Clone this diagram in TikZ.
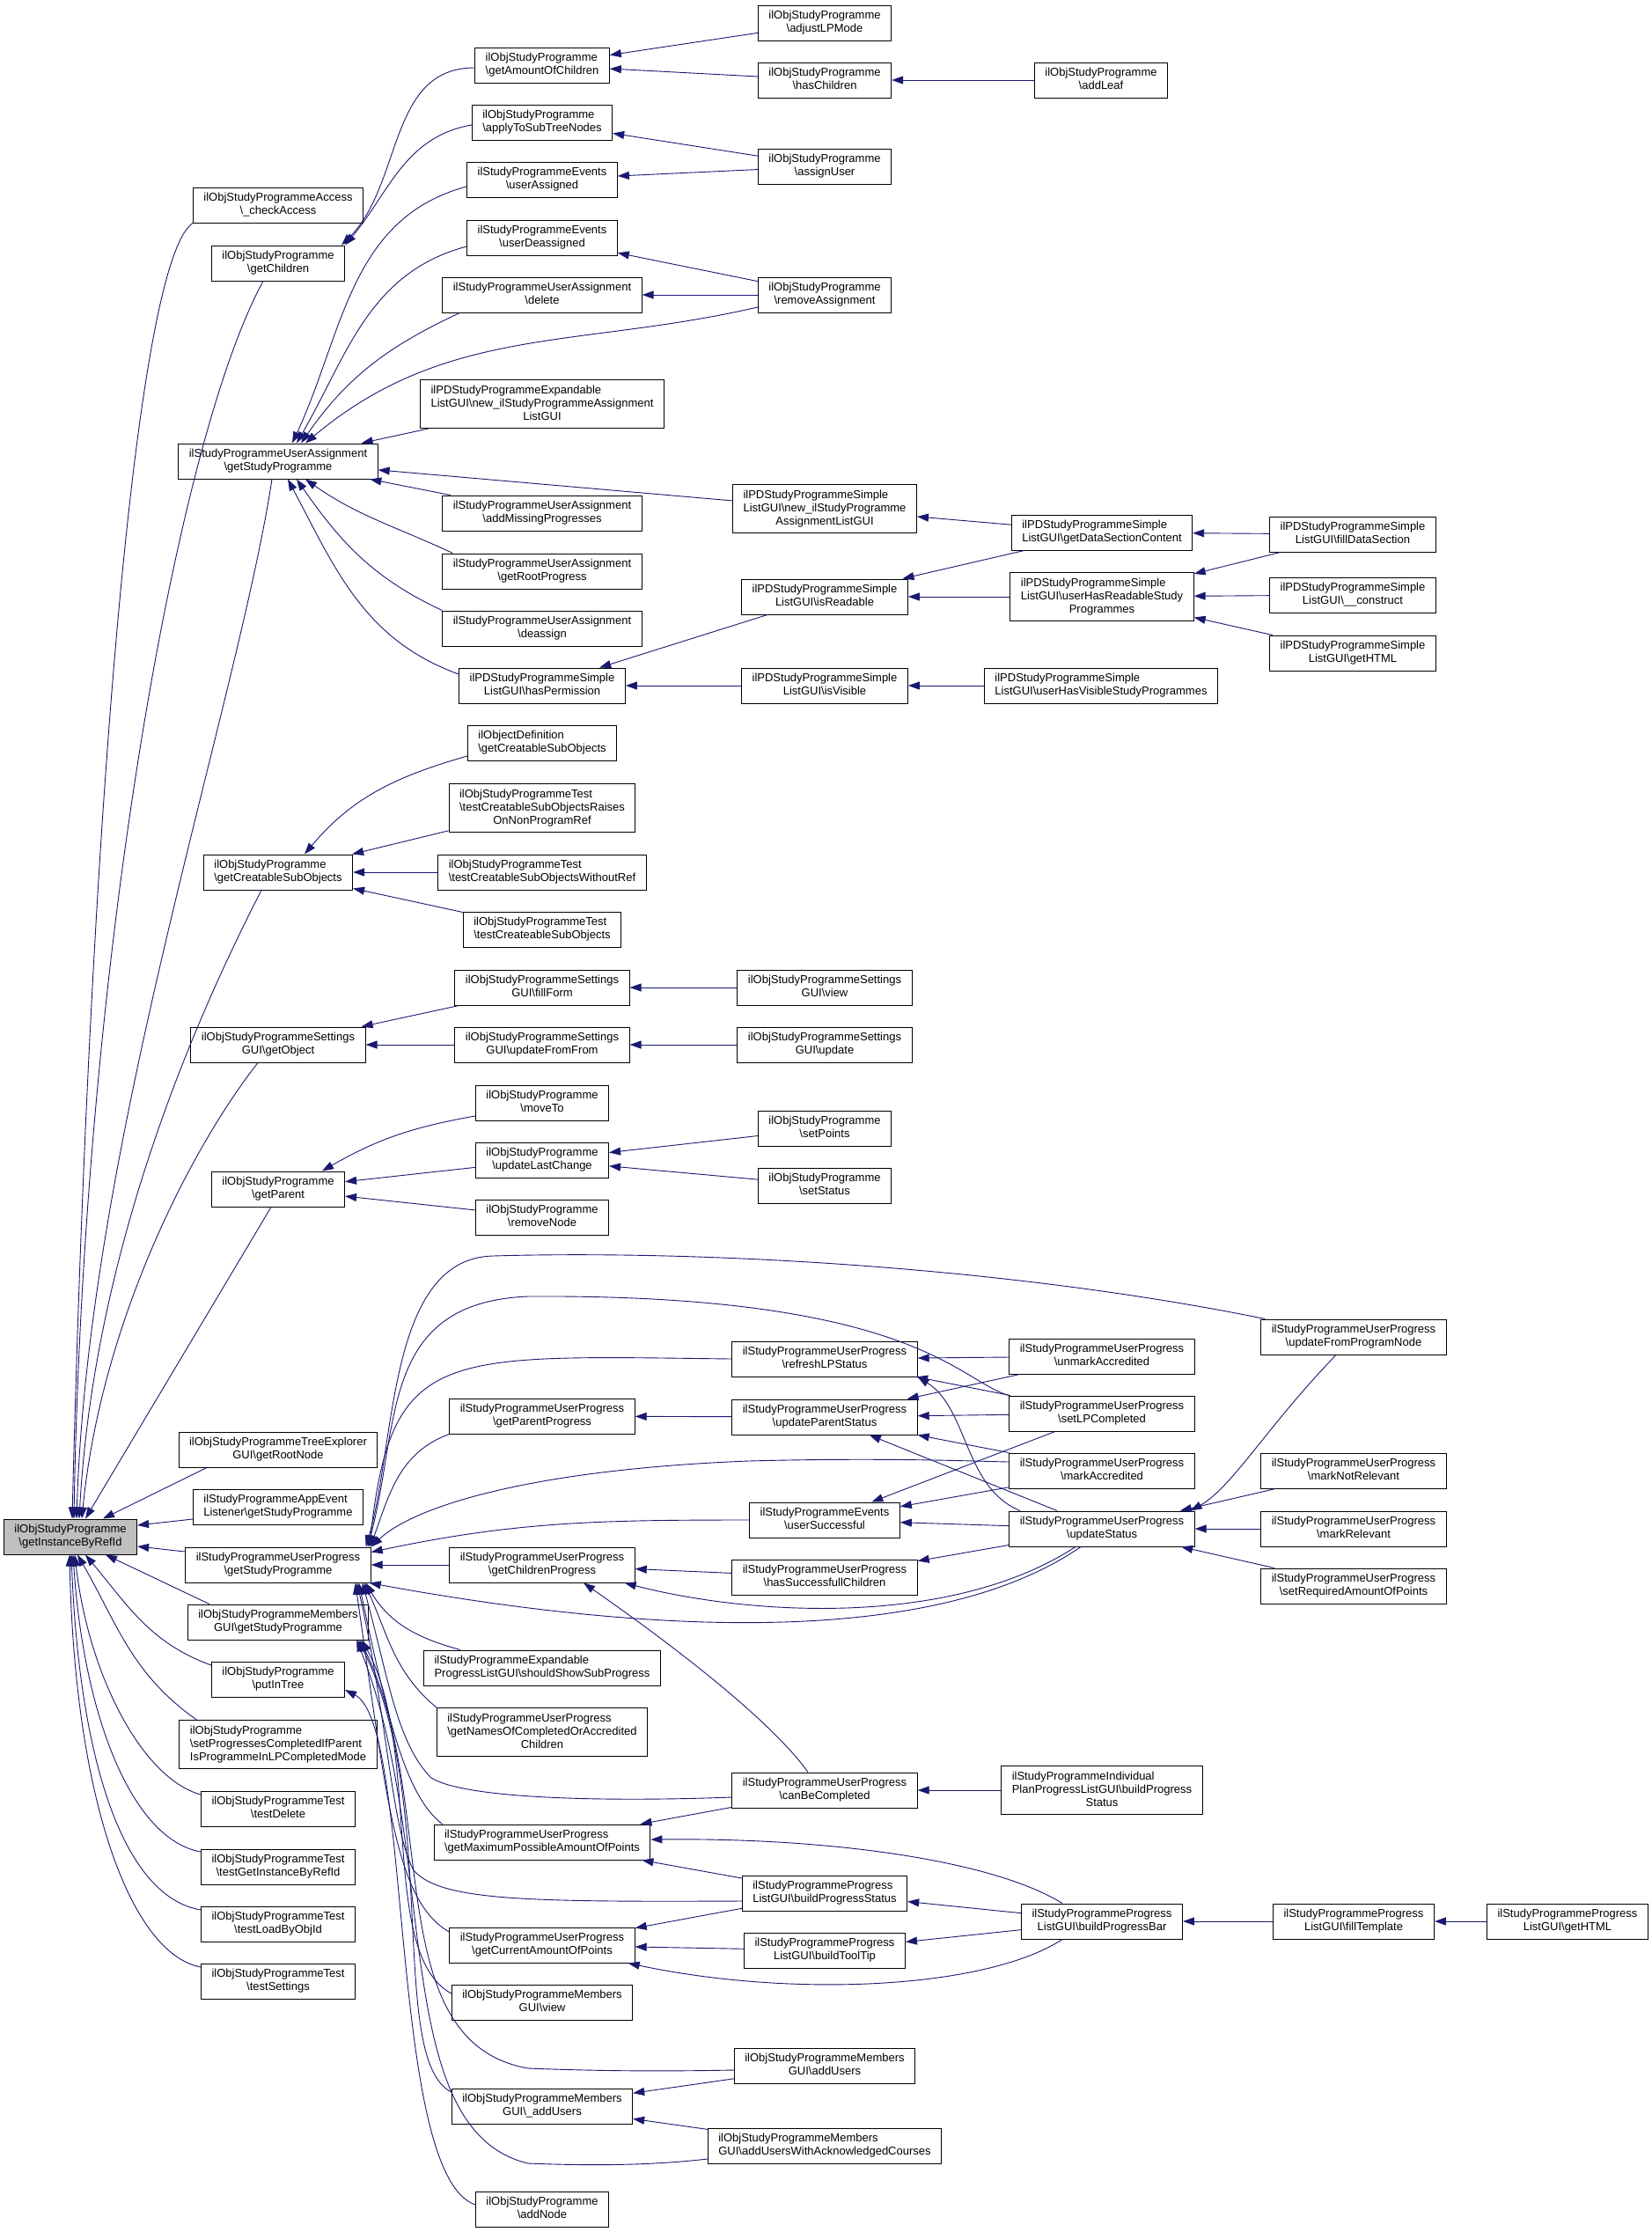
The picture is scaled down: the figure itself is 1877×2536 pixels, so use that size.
\documentclass[tikz,border=0pt]{standalone}
\usepackage{fontspec}
\setmainfont{Liberation Sans}
\usepackage{tikz}
\usetikzlibrary{arrows.meta}
\definecolor{edgeblue}{RGB}{25,25,112}
\newcommand{\bksl}{\textbackslash}
\newcommand{\twol}[2]{\begin{tabular}{@{}l@{}}#1\\\multicolumn{1}{@{}c@{}}{#2}\end{tabular}}
\newcommand{\threel}[3]{\begin{tabular}{@{}l@{}}#1\\#2\\\multicolumn{1}{@{}c@{}}{#3}\end{tabular}}

\begin{document}
\begin{tikzpicture}[x=1pt, y=1pt,
		fn/.style={draw=black, line width=1pt, fill=white, inner xsep=12pt, inner ysep=5pt, font=\fontsize{13}{15}\selectfont},
		call/.style={draw=edgeblue, line width=0.9pt, {Triangle[length=13pt,width=9pt]}-}]
			\path[use as bounding box, fill=white] (0,0) rectangle (1877,-2536);
			
			% Root
			\node[fn, fill=black!25] (root) at (80,-1746) {\twol{ilObjStudyProgramme}{\bksl getInstanceByRefId}};
			
			% Column 1
			\node[fn] (ca) at (316,-233) {\twol{ilObjStudyProgrammeAccess}{\bksl\_checkAccess}};
			\node[fn] (gch) at (316,-299) {\twol{ilObjStudyProgramme}{\bksl getChildren}};
			\node[fn] (uagsp) at (316,-524) {\twol{ilStudyProgrammeUserAssignment}{\bksl getStudyProgramme}};
			\node[fn] (gcso) at (316,-991) {\twol{ilObjStudyProgramme}{\bksl getCreatableSubObjects}};
			\node[fn] (gob) at (316,-1187) {\twol{ilObjStudyProgrammeSettings}{GUI\bksl getObject}};
			\node[fn] (gpar) at (316,-1351) {\twol{ilObjStudyProgramme}{\bksl getParent}};
			\node[fn] (te) at (316,-1647) {\twol{ilObjStudyProgrammeTreeExplorer}{GUI\bksl getRootNode}};
			\node[fn] (ae) at (316,-1712) {\twol{ilStudyProgrammeAppEvent}{Listener\bksl getStudyProgramme}};
			\node[fn] (upgsp) at (316,-1778) {\twol{ilStudyProgrammeUserProgress}{\bksl getStudyProgramme}};
			\node[fn] (mgsp) at (316,-1843) {\twol{ilObjStudyProgrammeMembers}{GUI\bksl getStudyProgramme}};
			\node[fn] (pit) at (316,-1908) {\twol{ilObjStudyProgramme}{\bksl putInTree}};
			\node[fn] (spc) at (316,-1982) {\threel{ilObjStudyProgramme}{\bksl setProgressesCompletedIfParent}{IsProgrammeInLPCompletedMode}};
			\node[fn] (tdel) at (316,-2055) {\twol{ilObjStudyProgrammeTest}{\bksl testDelete}};
			\node[fn] (tgi) at (316,-2121) {\twol{ilObjStudyProgrammeTest}{\bksl testGetInstanceByRefId}};
			\node[fn] (tlo) at (316,-2186) {\twol{ilObjStudyProgrammeTest}{\bksl testLoadByObjId}};
			\node[fn] (tset) at (316,-2251) {\twol{ilObjStudyProgrammeTest}{\bksl testSettings}};
			
			% Column 2
			\node[fn] (gaoc) at (616,-74) {\twol{ilObjStudyProgramme}{\bksl getAmountOfChildren}};
			\node[fn] (atst) at (616,-139) {\twol{ilObjStudyProgramme}{\bksl applyToSubTreeNodes}};
			\node[fn] (uas) at (616,-204) {\twol{ilStudyProgrammeEvents}{\bksl userAssigned}};
			\node[fn] (uds) at (616,-270) {\twol{ilStudyProgrammeEvents}{\bksl userDeassigned}};
			\node[fn] (uadel) at (616,-335) {\twol{ilStudyProgrammeUserAssignment}{\bksl delete}};
			\node[fn] (exnew) at (616,-459) {\threel{ilPDStudyProgrammeExpandable}{ListGUI\bksl new\_ilStudyProgrammeAssignment}{ListGUI}};
			\node[fn] (amp) at (616,-583) {\twol{ilStudyProgrammeUserAssignment}{\bksl addMissingProgresses}};
			\node[fn] (grp) at (616,-649) {\twol{ilStudyProgrammeUserAssignment}{\bksl getRootProgress}};
			\node[fn] (dea) at (616,-714) {\twol{ilStudyProgrammeUserAssignment}{\bksl deassign}};
			\node[fn] (hpe) at (616,-779) {\twol{ilPDStudyProgrammeSimple}{ListGUI\bksl hasPermission}};
			\node[fn] (odef) at (616,-844) {\twol{ilObjectDefinition}{\bksl getCreatableSubObjects}};
			\node[fn] (cwr) at (616,-918) {\threel{ilObjStudyProgrammeTest}{\bksl testCreatableSubObjectsRaises}{OnNonProgramRef}};
			\node[fn] (cwo) at (616,-991) {\twol{ilObjStudyProgrammeTest}{\bksl testCreatableSubObjectsWithoutRef}};
			\node[fn] (cts) at (616,-1056) {\twol{ilObjStudyProgrammeTest}{\bksl testCreateableSubObjects}};
			\node[fn] (ffo) at (616,-1122) {\twol{ilObjStudyProgrammeSettings}{GUI\bksl fillForm}};
			\node[fn] (uff) at (616,-1187) {\twol{ilObjStudyProgrammeSettings}{GUI\bksl updateFromFrom}};
			\node[fn] (mto) at (616,-1253) {\twol{ilObjStudyProgramme}{\bksl moveTo}};
			\node[fn] (ulc) at (616,-1318) {\twol{ilObjStudyProgramme}{\bksl updateLastChange}};
			\node[fn] (rno) at (616,-1383) {\twol{ilObjStudyProgramme}{\bksl removeNode}};
			\node[fn] (gpp) at (616,-1609) {\twol{ilStudyProgrammeUserProgress}{\bksl getParentProgress}};
			\node[fn] (gcp) at (616,-1778) {\twol{ilStudyProgrammeUserProgress}{\bksl getChildrenProgress}};
			\node[fn] (sss) at (616,-1895) {\twol{ilStudyProgrammeExpandable}{ProgressListGUI\bksl shouldShowSubProgress}};
			\node[fn] (gnc) at (616,-1968) {\threel{ilStudyProgrammeUserProgress}{\bksl getNamesOfCompletedOrAccredited}{Children}};
			\node[fn] (gmp) at (616,-2093) {\twol{ilStudyProgrammeUserProgress}{\bksl getMaximumPossibleAmountOfPoints}};
			\node[fn] (gcap) at (616,-2210) {\twol{ilStudyProgrammeUserProgress}{\bksl getCurrentAmountOfPoints}};
			\node[fn] (mview) at (616,-2275) {\twol{ilObjStudyProgrammeMembers}{GUI\bksl view}};
			\node[fn] (maddu) at (616,-2393) {\twol{ilObjStudyProgrammeMembers}{GUI\bksl\_addUsers}};
			\node[fn] (addn) at (616,-2510) {\twol{ilObjStudyProgramme}{\bksl addNode}};
			
			% Column 3
			\node[fn] (alp) at (937,-26) {\twol{ilObjStudyProgramme}{\bksl adjustLPMode}};
			\node[fn] (hch) at (937,-91) {\twol{ilObjStudyProgramme}{\bksl hasChildren}};
			\node[fn] (asu) at (937,-189) {\twol{ilObjStudyProgramme}{\bksl assignUser}};
			\node[fn] (ras) at (937,-335) {\twol{ilObjStudyProgramme}{\bksl removeAssignment}};
			\node[fn] (snew) at (937,-578) {\threel{ilPDStudyProgrammeSimple}{ListGUI\bksl new\_ilStudyProgramme}{AssignmentListGUI}};
			\node[fn] (ird) at (937,-678) {\twol{ilPDStudyProgrammeSimple}{ListGUI\bksl isReadable}};
			\node[fn] (ivi) at (937,-779) {\twol{ilPDStudyProgrammeSimple}{ListGUI\bksl isVisible}};
			\node[fn] (sview) at (937,-1122) {\twol{ilObjStudyProgrammeSettings}{GUI\bksl view}};
			\node[fn] (supd) at (937,-1187) {\twol{ilObjStudyProgrammeSettings}{GUI\bksl update}};
			\node[fn] (spt) at (937,-1282) {\twol{ilObjStudyProgramme}{\bksl setPoints}};
			\node[fn] (sst) at (937,-1347) {\twol{ilObjStudyProgramme}{\bksl setStatus}};
			\node[fn] (rlp) at (937,-1544) {\twol{ilStudyProgrammeUserProgress}{\bksl refreshLPStatus}};
			\node[fn] (ups) at (937,-1610) {\twol{ilStudyProgrammeUserProgress}{\bksl updateParentStatus}};
			\node[fn] (usu) at (937,-1727) {\twol{ilStudyProgrammeEvents}{\bksl userSuccessful}};
			\node[fn] (hsc) at (937,-1792) {\twol{ilStudyProgrammeUserProgress}{\bksl hasSuccessfullChildren}};
			\node[fn] (cbc) at (937,-2034) {\twol{ilStudyProgrammeUserProgress}{\bksl canBeCompleted}};
			\node[fn] (bps) at (937,-2151) {\twol{ilStudyProgrammeProgress}{ListGUI\bksl buildProgressStatus}};
			\node[fn] (btt) at (937,-2216) {\twol{ilStudyProgrammeProgress}{ListGUI\bksl buildToolTip}};
			\node[fn] (madd) at (937,-2347) {\twol{ilObjStudyProgrammeMembers}{GUI\bksl addUsers}};
			\node[fn] (mawa) at (937,-2438) {\twol{ilObjStudyProgrammeMembers}{GUI\bksl addUsersWithAcknowledgedCourses}};
			
			% Column 4
			\node[fn] (alf) at (1251,-91) {\twol{ilObjStudyProgramme}{\bksl addLeaf}};
			\node[fn] (gdsc) at (1252,-605) {\twol{ilPDStudyProgrammeSimple}{ListGUI\bksl getDataSectionContent}};
			\node[fn] (uhr) at (1252,-678) {\threel{ilPDStudyProgrammeSimple}{ListGUI\bksl userHasReadableStudy}{Programmes}};
			\node[fn] (uhv) at (1251,-779) {\twol{ilPDStudyProgrammeSimple}{ListGUI\bksl userHasVisibleStudyProgrammes}};
			\node[fn] (uma) at (1252,-1541) {\twol{ilStudyProgrammeUserProgress}{\bksl unmarkAccredited}};
			\node[fn] (slc) at (1252,-1606) {\twol{ilStudyProgrammeUserProgress}{\bksl setLPCompleted}};
			\node[fn] (mac) at (1252,-1671) {\twol{ilStudyProgrammeUserProgress}{\bksl markAccredited}};
			\node[fn] (ust) at (1252,-1737) {\twol{ilStudyProgrammeUserProgress}{\bksl updateStatus}};
			\node[fn] (ibps) at (1252,-2034) {\threel{ilStudyProgrammeIndividual}{PlanProgressListGUI\bksl buildProgress}{Status}};
			\node[fn] (bpb) at (1252,-2183) {\twol{ilStudyProgrammeProgress}{ListGUI\bksl buildProgressBar}};
			
			% Column 5 and 6
			\node[fn] (fds) at (1537,-607) {\twol{ilPDStudyProgrammeSimple}{ListGUI\bksl fillDataSection}};
			\node[fn] (cons) at (1537,-676) {\twol{ilPDStudyProgrammeSimple}{ListGUI\bksl\_\_construct}};
			\node[fn] (shtml) at (1537,-742) {\twol{ilPDStudyProgrammeSimple}{ListGUI\bksl getHTML}};
			\node[fn] (ufpn) at (1538,-1519) {\twol{ilStudyProgrammeUserProgress}{\bksl updateFromProgramNode}};
			\node[fn] (mnr) at (1538,-1671) {\twol{ilStudyProgrammeUserProgress}{\bksl markNotRelevant}};
			\node[fn] (mre) at (1538,-1737) {\twol{ilStudyProgrammeUserProgress}{\bksl markRelevant}};
			\node[fn] (sra) at (1538,-1802) {\twol{ilStudyProgrammeUserProgress}{\bksl setRequiredAmountOfPoints}};
			\node[fn] (fte) at (1538,-2183) {\twol{ilStudyProgrammeProgress}{ListGUI\bksl fillTemplate}};
			\node[fn] (phtml) at (1781,-2183) {\twol{ilStudyProgrammeProgress}{ListGUI\bksl getHTML}};
			
			% Into the root
			\draw[call] ([xshift=2]root.north) .. controls (100,-1000) and (150,-300) .. (ca.south west);
			\draw[call] ([xshift=4]root.north) .. controls (95,-1100) and (200,-500) .. ([xshift=-17]gch.south);
			\draw[call] ([xshift=7]root.north) .. controls (100,-1300) and (270,-800) .. ([xshift=-7]uagsp.south);
			\draw[call] ([xshift=10]root.north) .. controls (105,-1450) and (200,-1200) .. ([xshift=-19]gcso.south);
			\draw[call] ([xshift=13]root.north) .. controls (115,-1500) and (220,-1300) .. ([xshift=-23]gob.south);
			\draw[call] ([xshift=17]root.north) -- ([xshift=-8]gpar.south);
			\draw[call] ([xshift=37]root.north) -- ([xshift=-81]te.south);
			\draw[call] ([yshift=13]root.east) -- ([yshift=-14]ae.west);
			\draw[call] ([yshift=-11]root.east) -- ([yshift=15]upgsp.west);
			\draw[call] ([xshift=40]root.south) -- ([xshift=25]mgsp.north west);
			\draw[call] ([xshift=17]root.south) to[out=-50, in=160] ([yshift=16]pit.west);
			\draw[call] ([xshift=8]root.south) to[out=-60, in=145] ([xshift=20]spc.north west);
			\draw[call] ([xshift=5]root.south) .. controls (100,-1900) and (160,-2020) .. ([yshift=16]tdel.west);
			\draw[call] ([xshift=3]root.south) .. controls (95,-1950) and (150,-2090) .. ([yshift=17]tgi.west);
			\draw[call] ([xshift=1]root.south) .. controls (90,-2000) and (140,-2155) .. ([yshift=16]tlo.west);
			\draw[call] ([xshift=-1]root.south) .. controls (85,-2050) and (150,-2220) .. ([yshift=16]tset.west);
			
			% Children and assignment
			\draw[call] ([xshift=-4]gch.north east) to[out=45, in=180] ([yshift=-3]gaoc.west);
			\draw[call] (gch.north east) to[out=50, in=190] ([yshift=-3]atst.west);
			\draw[call] (gaoc) -- (alp);
			\draw[call] (gaoc) -- (hch);
			\draw[call] (hch) -- (alf);
			\draw[call] (atst) -- (asu);
			\draw[call] (uas) -- (asu);
			\draw[call] (uds) -- (ras);
			\draw[call] (uadel) -- (ras);
			\draw[call] ([xshift=16]uagsp.north) to[out=65, in=195] ([yshift=-8]uas.west);
			\draw[call] ([xshift=21]uagsp.north) to[out=60, in=195] ([yshift=-10]uds.west);
			\draw[call] ([xshift=26]uagsp.north) to[out=55, in=205] ([xshift=20]uadel.south west);
			\draw[call] ([xshift=31]uagsp.north) to[out=40, in=193] ([yshift=-14]ras.west);
			\draw[call] (uagsp) -- (exnew);
			\draw[call] (uagsp) -- (snew);
			\draw[call] (uagsp) -- (amp);
			\draw[call] ([xshift=31]uagsp.south) to[out=-35, in=155] ([xshift=12]grp.north west);
			\draw[call] ([xshift=21]uagsp.south) to[out=-55, in=155] (dea.north west);
			\draw[call] ([xshift=11]uagsp.south) to[out=-62, in=160] ([yshift=13]hpe.west);
			
			% Simple list GUI
			\draw[call] (snew) -- (gdsc);
			\draw[call] (gdsc) -- (fds);
			\draw[call] (ird) -- (gdsc);
			\draw[call] (ird) -- (uhr);
			\draw[call] (uhr) -- (fds);
			\draw[call] (uhr) -- (cons);
			\draw[call] (uhr) -- (shtml);
			\draw[call] (hpe) -- (ird);
			\draw[call] (hpe) -- (ivi);
			\draw[call] (ivi) -- (uhv);
			
			% Creatable sub objects, settings, parent
			\draw[call] ([xshift=30]gcso.north) to[out=50, in=196] ([yshift=-15]odef.west);
			\draw[call] (gcso) -- (cwr);
			\draw[call] (gcso) -- (cwo);
			\draw[call] (gcso) -- (cts);
			\draw[call] (gob) -- (ffo);
			\draw[call] (gob) -- (uff);
			\draw[call] (ffo) -- (sview);
			\draw[call] (uff) -- (supd);
			\draw[call] ([xshift=50]gpar.north) to[out=30, in=190] ([yshift=-15]mto.west);
			\draw[call] (gpar) -- (ulc);
			\draw[call] (gpar) -- (rno);
			\draw[call] (ulc) -- (spt);
			\draw[call] (ulc) -- (sst);
			
			% User progress, above
			\draw[call] ([xshift=-6]upgsp.north east) .. controls (450,-1640) and (440,-1430) .. (560,-1427) .. controls (800,-1420) and (1150,-1440) .. ([xshift=5]ufpn.north west);
			\draw[call] ([xshift=-4]upgsp.north east) .. controls (455,-1620) and (430,-1480) .. (600,-1473) .. controls (1040,-1470) and (1090,-1570) .. (slc.north west);
			\draw[call] ([xshift=-2]upgsp.north east) .. controls (445,-1530) and (500,-1540) .. (rlp.west);
			\draw[call] ([xshift=-1]upgsp.north east) to[out=70, in=200] (gpp.south west);
			\draw[call] (upgsp.north east) .. controls (470,-1712) and (600,-1670) .. (850,-1660) .. controls (1000,-1656) and (1100,-1660) .. ([yshift=10]mac.west);
			\draw[call] ([yshift=-6]upgsp.north east) to[out=12, in=180] (usu.west);
			\draw[call] (upgsp) -- (gcp);
			\draw[call] ([xshift=-2]upgsp.south east) .. controls (700,-1850) and (1050,-1880) .. ([xshift=-24]ust.south);
			
			% User progress, below
			\draw[call] ([xshift=-6]upgsp.south east) to[out=-60, in=165] ([xshift=42]sss.north west);
			\draw[call] ([xshift=-8]upgsp.south east) to[out=-65, in=140] (gnc.north west);
			\draw[call] ([xshift=-10]upgsp.south east) .. controls (440,-1900) and (450,-1980) .. (490,-2020) .. controls (530,-2045) and (700,-2047) .. ([yshift=-8]cbc.west);
			\draw[call] ([xshift=-14]upgsp.south east) .. controls (440,-1950) and (460,-2040) .. ([xshift=10]gmp.north west);
			\draw[call] ([xshift=-16]upgsp.south east) .. controls (440,-1950) and (445,-2080) .. (470,-2125) .. controls (500,-2160) and (600,-2161) .. ([yshift=-9]bps.west);
			\draw[call] ([xshift=-18]upgsp.south east) .. controls (440,-2050) and (450,-2160) .. ([yshift=15]gcap.west);
			\draw[call] ([xshift=-8]mgsp.south east) .. controls (480,-1990) and (430,-2220) .. ([yshift=10]mview.west);
			\draw[call] ([xshift=-10]mgsp.south east) .. controls (500,-2050) and (430,-2320) .. (600,-2350) .. controls (700,-2354) and (780,-2353) .. ([yshift=-5]madd.west);
			\draw[call] ([xshift=-12]mgsp.south east) .. controls (500,-2050) and (440,-2340) .. ([yshift=16]maddu.west);
			\draw[call] ([xshift=-14]mgsp.south east) .. controls (500,-2100) and (440,-2420) .. (600,-2458) .. controls (700,-2462) and (760,-2458) .. ([yshift=-15]mawa.west);
			\draw[call] ([yshift=-12]pit.east) .. controls (470,-1960) and (440,-2470) .. ([yshift=5]addn.west);
			
			% Progress status
			\draw[call] (gpp) -- (ups);
			\draw[call] (rlp) -- (uma);
			\draw[call] (rlp) -- (slc);
			\draw[call] (rlp.south east) .. controls (1100,-1600) and (1095,-1690) .. ([xshift=-93]ust.north);
			\draw[call] (ups) -- (uma);
			\draw[call] (ups) -- (slc);
			\draw[call] (ups) -- (mac);
			\draw[call] (ups) -- (ust);
			\draw[call] (usu) -- (slc);
			\draw[call] (usu) -- (mac);
			\draw[call] (usu) -- (ust);
			\draw[call] (hsc) -- (ust);
			\draw[call] (gcp) -- (hsc);
			\draw[call] ([xshift=-12]gcp.south east) .. controls (850,-1835) and (1080,-1850) .. ([xshift=-30]ust.south);
			\draw[call] ([xshift=47]gcp.south) .. controls (780,-1880) and (880,-1960) .. ([xshift=-19]cbc.north);
			\draw[call] (ust) -- (mnr);
			\draw[call] (ust) -- (mre);
			\draw[call] (ust) -- (sra);
			\draw[call] ([xshift=-5]ust.north east) .. controls (1400,-1690) and (1440,-1620) .. ([xshift=-20]ufpn.south);
			
			% Progress bar
			\draw[call] (cbc) -- (ibps);
			\draw[call] (gmp) -- (cbc);
			\draw[call] ([yshift=3]gmp.east) .. controls (950,-2088) and (1130,-2115) .. ([xshift=-45]bpb.north);
			\draw[call] (gmp) -- (bps);
			\draw[call] (gcap) -- (bps);
			\draw[call] (gcap) -- (btt);
			\draw[call] ([xshift=-8]gcap.south east) .. controls (900,-2270) and (1120,-2260) .. ([xshift=-45]bpb.south);
			\draw[call] (bps) -- (bpb);
			\draw[call] (btt) -- (bpb);
			\draw[call] (bpb) -- (fte);
			\draw[call] (fte) -- (phtml);
			\draw[call] (maddu) -- (madd);
			\draw[call] (maddu) -- (mawa);
			
		\end{tikzpicture}
\end{document}
